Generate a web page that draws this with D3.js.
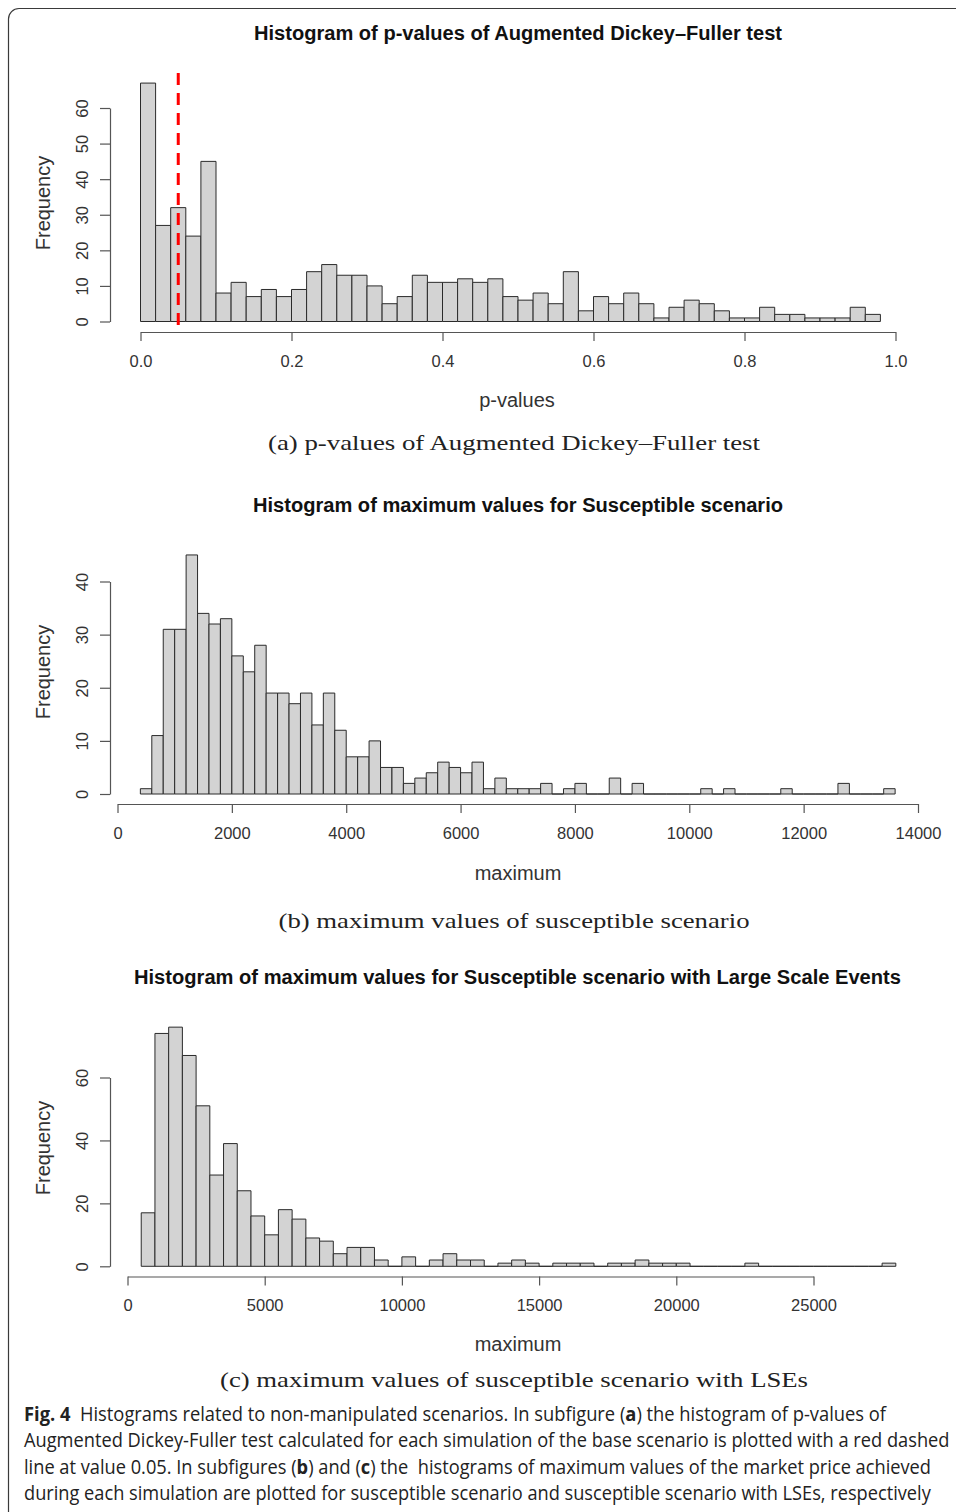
<!DOCTYPE html>
<html>
<head>
<meta charset="utf-8">
<script src="https://cdn.jsdelivr.net/npm/d3@7"></script>
<style>
  html, body { margin: 0; padding: 0; background: #fff; }
  svg { display: block; }
</style>
</head>
<body>
<div id="chart"></div>
<script>
// ---------- DATA ----------
// (a) p-values of ADF test, bins of width 0.02 starting at 0
const adfBinStart = 0;
const adfBinWidth = 0.02;
const adfCounts = [67, 27, 32, 24, 45, 8, 11, 7, 9, 7, 9, 14, 16, 13, 13, 10, 5, 7, 13, 11,
                   11, 12, 11, 12, 7, 6, 8, 5, 14, 3, 7, 5, 8, 5, 1, 4, 6, 5, 3, 1,
                   1, 4, 2, 2, 1, 1, 1, 4, 2];
const adfTicksX = [0, 0.2, 0.4, 0.6, 0.8, 1.0];
const adfTickLabelsX = ["0.0", "0.2", "0.4", "0.6", "0.8", "1.0"];
const adfTicksY = [0, 10, 20, 30, 40, 50, 60];
const adfThreshold = 0.05;

// (b) maximum values, susceptible scenario, bins of width 200 starting at 400
const suscBinStart = 400;
const suscBinWidth = 200;
const suscCounts = [1, 11, 31, 31, 45, 34, 32, 33, 26, 23, 28, 19, 19, 17, 19, 13, 19, 12, 7, 7,
                    10, 5, 5, 2, 3, 4, 6, 5, 4, 6, 1, 3, 1, 1, 1, 2, 0, 1, 2, 0,
                    0, 3, 0, 2, 0, 0, 0, 0, 0, 1, 0, 1, 0, 0, 0, 0, 1, 0, 0, 0,
                    0, 2, 0, 0, 0, 1];
const suscTicksX = [0, 2000, 4000, 6000, 8000, 10000, 12000, 14000];
const suscTicksY = [0, 10, 20, 30, 40];

// (c) maximum values, susceptible scenario with LSEs, bins of width 500 starting at 500
const lseBinStart = 500;
const lseBinWidth = 500;
const lseCounts = [17, 74, 76, 67, 51, 29, 39, 24, 16, 10, 18, 15, 9, 8, 4, 6, 6, 2, 0, 3,
                   0, 2, 4, 2, 2, 0, 1, 2, 1, 0, 1, 1, 1, 0, 1, 1, 2, 1, 1, 1,
                   0, 0, 0, 0, 1, 0, 0, 0, 0, 0, 0, 0, 0, 0, 1];
const lseTicksX = [0, 5000, 10000, 15000, 20000, 25000];
const lseTicksY = [0, 20, 40, 60];

// ---------- SETUP ----------
const W = 956, H = 1512;
const svg = d3.select("#chart").append("svg")
  .attr("width", W).attr("height", H)
  .attr("viewBox", `0 0 ${W} ${H}`);

const sans = "'Liberation Sans', Arial, Helvetica, sans-serif";
const serif = "'Liberation Serif', 'Times New Roman', serif";

// Outer frame (rounded top-left corner, open on right/bottom)
svg.append("path")
  .attr("d", "M8.5,1512 V19 A10.5,10.5 0 0 1 19,8.5 H956")
  .attr("fill", "none")
  .attr("stroke", "#3a3a3a")
  .attr("stroke-width", 1.2);

function drawPanel(p) {
  const g = svg.append("g");
  const x = d3.scaleLinear().domain(p.xDomain).range(p.xRange);
  const y = d3.scaleLinear().domain(p.yDomain).range(p.yRange);

  const bins = p.counts.map((c, i) => ({
    x0: p.binStart + i * p.binWidth,
    x1: p.binStart + (i + 1) * p.binWidth,
    c
  }));

  g.append("g").selectAll("path")
    .data(bins)
    .join("path")
    .attr("d", d => {
      const a = x(d.x0), b = x(d.x1), y0 = y(0), y1 = y(d.c);
      return `M${a},${y0}V${y1}H${b}V${y0}Z`;
    })
    .attr("fill", "#d3d3d3")
    .attr("stroke", "#2a2a2a")
    .attr("stroke-width", 1);

  // X axis
  const xAxis = d3.axisBottom(x)
    .tickValues(p.xTicks)
    .tickSize(9)
    .tickSizeOuter(0)
    .tickFormat((d, i) => p.xTickLabels ? p.xTickLabels[i] : String(d));
  const gx = g.append("g")
    .attr("transform", `translate(0,${p.xAxisY})`)
    .call(xAxis);
  gx.select(".domain").attr("stroke", "#555").attr("stroke-width", 1.2);
  gx.selectAll(".tick line").attr("stroke", "#555").attr("stroke-width", 1.2);
  gx.selectAll(".tick text")
    .attr("y", p.tickLabelY - p.xAxisY)
    .attr("dy", 0)
    .attr("fill", "#333")
    .style("font-family", sans)
    .style("font-size", "16.5px");

  // Y axis
  const yAxis = d3.axisLeft(y)
    .tickValues(p.yTicks)
    .tickSize(10)
    .tickSizeOuter(0);
  const gy = g.append("g")
    .attr("transform", `translate(${p.yAxisX},0)`)
    .call(yAxis);
  gy.select(".domain").attr("stroke", "#555").attr("stroke-width", 1.2);
  gy.selectAll(".tick line").attr("stroke", "#555").attr("stroke-width", 1.2);
  gy.selectAll(".tick text")
    .attr("transform", "rotate(-90)")
    .attr("x", 0)
    .attr("y", -22)
    .attr("dy", 0)
    .attr("text-anchor", "middle")
    .attr("fill", "#333")
    .style("font-family", sans)
    .style("font-size", "16.5px");

  // Threshold line
  if (p.vline !== undefined) {
    g.append("line")
      .attr("x1", x(p.vline)).attr("x2", x(p.vline))
      .attr("y1", p.vlineTop).attr("y2", p.vlineBottom)
      .attr("stroke", "#ff0000")
      .attr("stroke-width", 3)
      .attr("stroke-dasharray", "12,8");
  }

  // Title
  g.append("text")
    .attr("x", p.titleX).attr("y", p.titleY)
    .attr("text-anchor", "middle")
    .attr("fill", "#111")
    .style("font-family", sans)
    .style("font-weight", "bold")
    .style("font-size", "20px")
    .attr("textLength", p.titleLen)
    .attr("lengthAdjust", "spacingAndGlyphs")
    .text(p.title);

  // Axis titles
  g.append("text")
    .attr("x", p.xLabelX).attr("y", p.xLabelY)
    .attr("text-anchor", "middle")
    .attr("fill", "#333")
    .style("font-family", sans)
    .style("font-size", "20px")
    .text(p.xLabel);

  g.append("text")
    .attr("transform", `translate(50,${p.freqY}) rotate(-90)`)
    .attr("text-anchor", "middle")
    .attr("fill", "#333")
    .style("font-family", sans)
    .style("font-size", "20px")
    .text("Frequency");

  // Sub-caption (LaTeX style)
  g.append("text")
    .attr("x", p.capX).attr("y", p.capY)
    .attr("text-anchor", "middle")
    .attr("fill", "#222")
    .style("font-family", serif)
    .style("font-size", "22px")
    .attr("textLength", p.capLen)
    .attr("lengthAdjust", "spacingAndGlyphs")
    .text(p.caption);
}

drawPanel({
  counts: adfCounts, binStart: adfBinStart, binWidth: adfBinWidth,
  xDomain: [0, 1], xRange: [140.5, 895.5],
  yDomain: [0, 60], yRange: [321.5, 108],
  xTicks: adfTicksX, xTickLabels: adfTickLabelsX, yTicks: adfTicksY,
  xAxisY: 332, tickLabelY: 367, yAxisX: 110,
  vline: adfThreshold, vlineTop: 73, vlineBottom: 331,
  title: "Histogram of p-values of Augmented Dickey\u2013Fuller test",
  titleX: 518, titleY: 40, titleLen: 528,
  xLabel: "p-values", xLabelX: 517, xLabelY: 407, freqY: 203,
  caption: "(a) p-values of Augmented Dickey\u2013Fuller test",
  capX: 514, capY: 450, capLen: 492
});

drawPanel({
  counts: suscCounts, binStart: suscBinStart, binWidth: suscBinWidth,
  xDomain: [0, 14000], xRange: [117.5, 918],
  yDomain: [0, 40], yRange: [794, 581.5],
  xTicks: suscTicksX, xTickLabels: null, yTicks: suscTicksY,
  xAxisY: 804, tickLabelY: 839, yAxisX: 110,
  title: "Histogram of maximum values for Susceptible scenario",
  titleX: 518, titleY: 512, titleLen: 530,
  xLabel: "maximum", xLabelX: 518, xLabelY: 880, freqY: 672,
  caption: "(b) maximum values of susceptible scenario",
  capX: 514, capY: 928, capLen: 471
});

drawPanel({
  counts: lseCounts, binStart: lseBinStart, binWidth: lseBinWidth,
  xDomain: [0, 25000], xRange: [127.5, 813.5],
  yDomain: [0, 60], yRange: [1266.3, 1077.5],
  xTicks: lseTicksX, xTickLabels: null, yTicks: lseTicksY,
  xAxisY: 1276.5, tickLabelY: 1311, yAxisX: 110,
  title: "Histogram of maximum values for Susceptible scenario with Large Scale Events",
  titleX: 517.5, titleY: 984, titleLen: 767,
  xLabel: "maximum", xLabelX: 518, xLabelY: 1351, freqY: 1148,
  caption: "(c) maximum values of susceptible scenario with LSEs",
  capX: 514, capY: 1387, capLen: 588
});

// ---------- FIGURE CAPTION ----------
const capLines = [
  { len: 863, parts: [["Fig. 4", true], ["\u00a0\u00a0Histograms related to non-manipulated scenarios. In subfigure (", false], ["a", true], [") the histogram of p-values of", false]] },
  { len: 926, parts: [["Augmented Dickey-Fuller test calculated for each simulation of the base scenario is plotted with a red dashed", false]] },
  { len: 907, parts: [["line at value 0.05. In subfigures (", false], ["b", true], [") and (", false], ["c", true], [") the\u00a0 histograms of maximum values of the market price achieved", false]] },
  { len: 907, parts: [["during each simulation are plotted for susceptible scenario and susceptible scenario with LSEs, respectively", false]] }
];
const capBaselines = [1421, 1447, 1474, 1500];

capLines.forEach((ln, i) => {
  const t = svg.append("text")
    .attr("x", 0).attr("y", 0)
    .attr("fill", "#222")
    .style("font-family", "'Open Sans', 'Noto Sans', sans-serif")
    .style("font-size", "19.5px");
  ln.parts.forEach(([s, b]) => {
    t.append("tspan").style("font-weight", b ? "bold" : "normal").text(s);
  });
  const natural = t.node().getComputedTextLength();
  const sx = ln.len / natural;
  t.attr("transform", `translate(24,${capBaselines[i]}) scale(${sx},1)`);
});
</script>
</body>
</html>
